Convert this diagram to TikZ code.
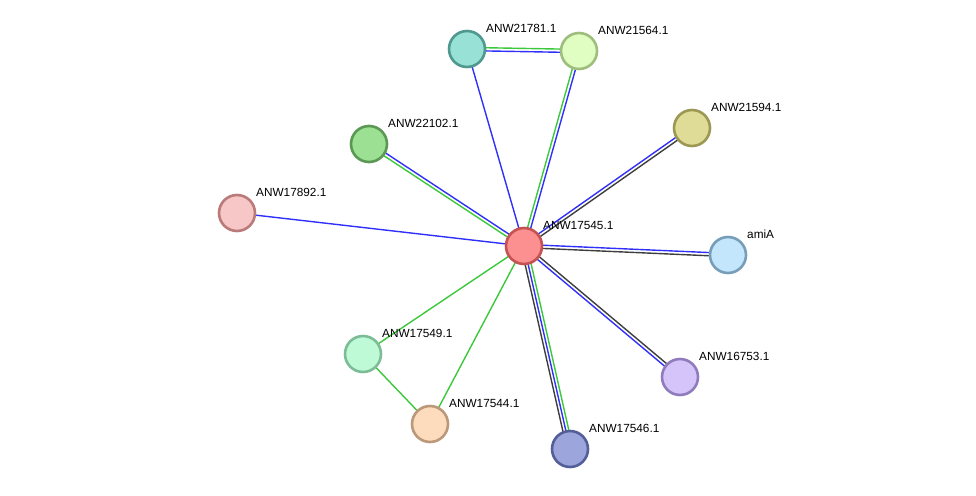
\documentclass[tikz,border=0pt]{standalone}
\usepackage{fontspec}
\setmainfont{Liberation Sans}
\usetikzlibrary{calc,backgrounds}

% protein colours (fill / border)
\definecolor{fc}{RGB}{252,143,143}  \definecolor{dc}{RGB}{196,82,82}
\definecolor{fa}{RGB}{152,225,214}  \definecolor{da}{RGB}{78,152,142}
\definecolor{fb}{RGB}{225,254,194}  \definecolor{db}{RGB}{158,190,126}
\definecolor{fd}{RGB}{156,224,148}  \definecolor{dd}{RGB}{90,152,84}
\definecolor{fe}{RGB}{222,220,150}  \definecolor{de}{RGB}{156,152,84}
\definecolor{ff}{RGB}{247,198,198}  \definecolor{df}{RGB}{186,122,122}
\definecolor{fg}{RGB}{196,230,252}  \definecolor{dg}{RGB}{118,158,184}
\definecolor{fh}{RGB}{190,250,214}  \definecolor{dh}{RGB}{124,188,150}
\definecolor{fi}{RGB}{253,220,190}  \definecolor{di}{RGB}{188,152,122}
\definecolor{fj}{RGB}{212,196,250}  \definecolor{dj}{RGB}{144,124,188}
\definecolor{fk}{RGB}{156,166,220}  \definecolor{dk}{RGB}{84,94,152}
% evidence colours
\definecolor{evblue}{RGB}{48,48,250}
\definecolor{evgreen}{RGB}{60,200,60}
\definecolor{evgray}{RGB}{62,62,62}

\tikzset{
  prot/.style={circle, minimum size=36pt, inner sep=0pt, line width=2.6pt},
  lbl/.style={anchor=west, inner sep=0pt, font=\fontsize{11.8}{14}\selectfont},
  edge/.style={line width=1.4pt}
}

% one line of a link, shifted sideways by #3
\newcommand{\bond}[4]{\draw[edge,#4] ($(#1.center)!#3!90:(#2.center)$) -- ($(#2.center)!#3!-90:(#1.center)$);}

\begin{document}
\begin{tikzpicture}[x=1pt,y=-1pt]
    \useasboundingbox (0,0) rectangle (976,495);

    % Proteins
    \foreach \id/\px/\py/\name in {c/524/246/ANW17545.1, a/467/49/ANW21781.1, b/579/51/ANW21564.1,
        d/369/144/ANW22102.1, e/692/128/ANW21594.1, f/237/213/ANW17892.1, g/728/255/amiA,
        h/363/354/ANW17549.1, i/430/424/ANW17544.1, j/680/377/ANW16753.1, k/570/449/ANW17546.1} {
        \node[prot, fill=f\id, draw=d\id] (\id) at (\px,\py) {};
        \node[lbl] (t\id) at ([shift={(19,-20.5)}]\id.center) {\name};
    }

    % Links
    \begin{scope}[on background layer]
        \bond{c}{a}{0pt}{evblue}
        \bond{a}{b}{1.6pt}{evgreen}
        \bond{a}{b}{-1.6pt}{evblue}
        \bond{c}{b}{-1.6pt}{evblue}
        \bond{c}{b}{1.6pt}{evgreen}
        \bond{c}{d}{1.6pt}{evgreen}
        \bond{c}{d}{-1.6pt}{evblue}
        \bond{c}{e}{-1.6pt}{evgray}
        \bond{c}{e}{1.6pt}{evblue}
        \bond{c}{f}{0pt}{evblue}
        \bond{c}{g}{-1.6pt}{evgray}
        \bond{c}{g}{1.6pt}{evblue}
        \bond{c}{j}{-1.6pt}{evblue}
        \bond{c}{j}{1.6pt}{evgray}
        \bond{c}{k}{3pt}{evgreen}
        \bond{c}{k}{0pt}{evblue}
        \bond{c}{k}{-3pt}{evgray}
        \bond{c}{h}{0pt}{evgreen}
        \bond{c}{i}{0pt}{evgreen}
        \bond{h}{i}{0pt}{evgreen}
    \end{scope}
\end{tikzpicture}
\end{document}
